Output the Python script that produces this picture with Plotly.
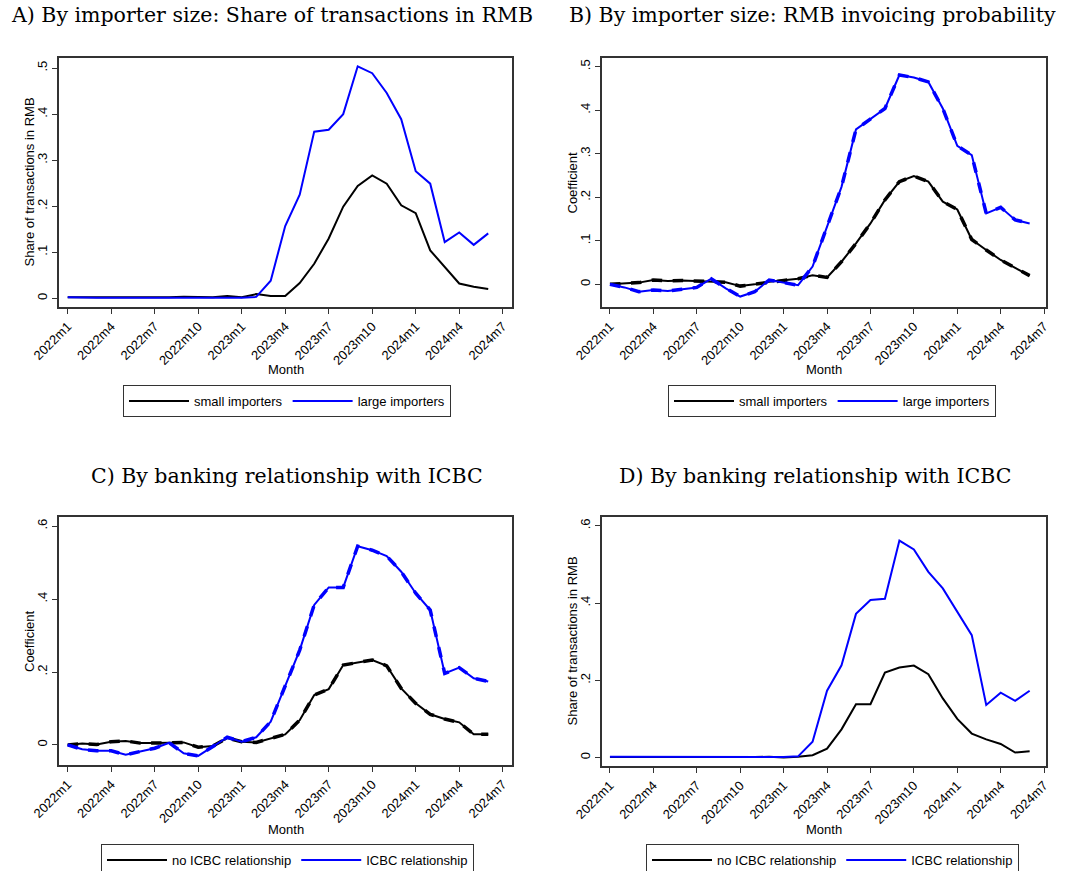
import plotly.graph_objects as go

# ---- data ----
months = [f"{y}m{m}" for y in (2022, 2023, 2024) for m in range(1, 13)][:30]  # 2022m1 .. 2024m6
tick_labels = ["2022m1", "2022m4", "2022m7", "2022m10", "2023m1", "2023m4",
               "2023m7", "2023m10", "2024m1", "2024m4", "2024m7"]

# A) share of transactions in RMB by importer size
a_small = [0.002, 0.002, 0.001, 0.002, 0.002, 0.002, 0.002, 0.002, 0.003, 0.002,
           0.002, 0.005, 0.002, 0.009, 0.005, 0.005, 0.033, 0.075, 0.130, 0.199,
           0.244, 0.267, 0.249, 0.202, 0.185, 0.104, 0.067, 0.032, 0.025, 0.020]
a_large = [0.002, 0.001, 0.001, 0.001, 0.001, 0.001, 0.001, 0.001, 0.001, 0.001,
           0.001, 0.001, 0.001, 0.003, 0.038, 0.157, 0.225, 0.362, 0.366, 0.400,
           0.504, 0.489, 0.446, 0.389, 0.276, 0.249, 0.122, 0.143, 0.116, 0.141]

# B) RMB invoicing probability coefficient by importer size
b_small = [0.000, 0.002, 0.004, 0.010, 0.008, 0.009, 0.008, 0.006, 0.005, -0.004,
           0.000, 0.006, 0.010, 0.013, 0.021, 0.016, 0.052, 0.094, 0.140, 0.194,
           0.236, 0.249, 0.236, 0.190, 0.172, 0.103, 0.079, 0.056, 0.038, 0.020]
b_large = [0.000, -0.007, -0.017, -0.013, -0.015, -0.011, -0.007, 0.013, -0.009, -0.028,
           -0.017, 0.010, 0.004, -0.002, 0.041, 0.132, 0.224, 0.356, 0.381, 0.404,
           0.481, 0.475, 0.465, 0.404, 0.318, 0.297, 0.163, 0.177, 0.148, 0.140]

# C) coefficient by banking relationship with ICBC
c_no = [0.000, 0.004, 0.001, 0.009, 0.011, 0.005, 0.005, 0.006, 0.007, -0.006,
        -0.003, 0.019, 0.009, 0.007, 0.019, 0.029, 0.068, 0.137, 0.153, 0.219,
        0.226, 0.233, 0.217, 0.155, 0.114, 0.084, 0.071, 0.062, 0.029, 0.029]
c_icbc = [0.000, -0.012, -0.016, -0.016, -0.027, -0.018, -0.009, 0.006, -0.023, -0.030,
          -0.005, 0.021, 0.009, 0.021, 0.064, 0.164, 0.260, 0.384, 0.432, 0.432,
          0.545, 0.534, 0.518, 0.475, 0.416, 0.370, 0.196, 0.212, 0.183, 0.174]

# D) share of transactions in RMB by banking relationship with ICBC
d_no = [0.001, 0.001, 0.000, 0.001, 0.001, 0.001, 0.001, 0.001, 0.001, 0.000,
        0.001, 0.002, 0.000, 0.002, 0.006, 0.023, 0.073, 0.138, 0.138, 0.220,
        0.233, 0.238, 0.216, 0.153, 0.100, 0.062, 0.047, 0.035, 0.013, 0.016]
d_icbc = [0.002, 0.002, 0.001, 0.002, 0.002, 0.002, 0.002, 0.002, 0.002, 0.002,
          0.002, 0.002, 0.001, 0.003, 0.041, 0.173, 0.239, 0.372, 0.408, 0.411,
          0.562, 0.539, 0.481, 0.438, 0.378, 0.317, 0.136, 0.168, 0.147, 0.173]

y_ticks_ab = [0, 0.1, 0.2, 0.3, 0.4, 0.5]
y_ticktext_ab = ["0", ".1", ".2", ".3", ".4", ".5"]
y_ticks_cd = [0, 0.2, 0.4, 0.6]
y_ticktext_cd = ["0", ".2", ".4", ".6"]

# ---- figure ----
W, H = 1068, 871
BLUE = "#0000FF"
BLACK = "#000000"
SANS = "Liberation Sans, Arial, sans-serif"
SERIF = "DejaVu Serif, serif"

x_idx = list(range(len(months)))
tick_vals = [months.index(t) if t in months else 30 for t in tick_labels]

def px_x(a, b):
    return [a / W, b / W]

def px_y(top, bottom):
    return [1 - bottom / H, 1 - top / H]

panels = [
    # key, xdom, ydom, xrange, yrange, yticks, yticktext, ytitle, series, dashed, legend, legend left, legend top, ytitle x, xtitle y
    ("", (59, 512), (58, 307), [-0.6, 30.64], [-0.019, 0.522], y_ticks_ab, y_ticktext_ab,
     "Share of transactions in RMB", [("small importers", a_small, BLACK), ("large importers", a_large, BLUE)], False,
     "legend", 123, 385, 29, 370),
    ("2", (602, 1046), (58, 307), [-0.55, 30.13], [-0.052, 0.520], y_ticks_ab, y_ticktext_ab,
     "Coefficient", [("small importers", b_small, BLACK), ("large importers", b_large, BLUE)], True,
     "legend2", 668, 385, 572, 370),
    ("3", (59, 512), (517, 765), [-0.6, 30.64], [-0.055, 0.625], y_ticks_cd, y_ticktext_cd,
     "Coefficient", [("no ICBC relationship", c_no, BLACK), ("ICBC relationship", c_icbc, BLUE)], True,
     "legend3", 101, 844, 29, 829),
    ("4", (602, 1046), (517, 766), [-0.55, 30.13], [-0.022, 0.623], y_ticks_cd, y_ticktext_cd,
     "Share of transactions in RMB", [("no ICBC relationship", d_no, BLACK), ("ICBC relationship", d_icbc, BLUE)], False,
     "legend4", 646, 844, 572, 829),
]

fig = go.Figure()
layout = dict(
    width=W, height=H,
    margin=dict(l=0, r=0, t=0, b=0, autoexpand=False),
    paper_bgcolor="white", plot_bgcolor="white",
    font=dict(family=SANS, size=13, color="black"),
)
anns = []

for key, xd, yd, xr, yr, yt, ytt, ytitle, series, dashed, legname, lx, ly, ytx, xty in panels:
    xa = "x" + key
    ya = "y" + key
    for name, vals, col in series:
        fig.add_trace(go.Scatter(
            x=x_idx, y=vals, mode="lines", name=name,
            line=dict(color=col, width=2), xaxis=xa, yaxis=ya,
            legend=legname, showlegend=True,
        ))
        if dashed:
            fig.add_trace(go.Scatter(
                x=x_idx, y=vals, mode="lines", name=name,
                line=dict(color=col, width=3.5, dash="dash"), xaxis=xa, yaxis=ya,
                legend=legname, showlegend=False, hoverinfo="skip",
            ))
    layout["xaxis" + key] = dict(
        domain=px_x(*xd), range=xr, anchor=ya, automargin=False,
        tickmode="array", tickvals=tick_vals, ticktext=tick_labels, tickangle=-45,
        ticks="outside", ticklen=5, tickcolor="#333", tickwidth=1,
        showline=True, linecolor="#333", linewidth=1.5, mirror=True,
        showgrid=False, zeroline=False,
        tickfont=dict(family=SANS, size=13),
    )
    layout["yaxis" + key] = dict(
        domain=px_y(*yd), range=yr, anchor=xa, automargin=False,
        tickmode="array", tickvals=yt, ticktext=ytt, tickangle=-90,
        ticks="outside", ticklen=5, tickcolor="#333", tickwidth=1,
        showline=True, linecolor="#333", linewidth=1.5, mirror=True,
        showgrid=False, zeroline=False,
        tickfont=dict(family=SANS, size=13),
    )
    layout[legname] = dict(
        orientation="h", x=lx / W, y=1 - ly / H, xanchor="left", yanchor="top",
        bordercolor="#333", borderwidth=1, bgcolor="white",
        font=dict(family=SANS, size=13), itemwidth=60,
        traceorder="normal", tracegroupgap=0,
    )
    # axis titles
    anns.append(dict(text="Month", x=(xd[0] + xd[1]) / 2 / W, y=1 - xty / H,
                     xref="paper", yref="paper", xanchor="center", yanchor="middle",
                     showarrow=False, font=dict(family=SANS, size=13, color="black")))
    anns.append(dict(text=ytitle, x=ytx / W, y=1 - (yd[0] + yd[1]) / 2 / H,
                     xref="paper", yref="paper", xanchor="center", yanchor="middle",
                     textangle=-90, showarrow=False,
                     font=dict(family=SANS, size=13, color="black")))

titles = [
    ("A) By importer size: Share of transactions in RMB", 272, 15),
    ("B) By importer size: RMB invoicing probability", 812, 15),
    ("C) By banking relationship with ICBC", 287, 476),
    ("D) By banking relationship with ICBC", 815, 476),
]
for text, cx, cy in titles:
    anns.append(dict(text=text, x=cx / W, y=1 - cy / H, xref="paper", yref="paper",
                     xanchor="center", yanchor="middle", showarrow=False,
                     font=dict(family=SERIF, size=20.5, color="black")))
layout["annotations"] = anns

fig.update_layout(**layout)
fig.write_html(
    "out.html",
    config={"displayModeBar": False},
    post_script="document.body.style.margin='0px';document.body.style.overflow='hidden';",
)
